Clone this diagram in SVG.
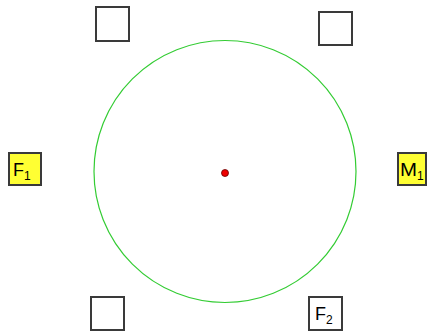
<svg xmlns="http://www.w3.org/2000/svg" width="429" height="335" viewBox="0 0 429 335">
<style>
.box{stroke:#3a3a3a;stroke-width:2;fill:#fff}
.hl{fill:#ffff33}
.t{font-family:"Liberation Sans",Arial,sans-serif;font-size:18px;fill:#000}
.s{font-size:12px}
</style>
<rect width="429" height="335" fill="#fff"/>
<g id="connectors"></g>
<g id="circle"><circle cx="225" cy="171.5" r="131" fill="none" stroke="#33cc33" stroke-width="1.2"/></g>
<g id="center"><circle cx="225" cy="173" r="3.5" fill="#e00" stroke="#600" stroke-width="0.8"/></g>
<g id="F1"><rect class="box hl" x="9" y="153" width="32" height="32"/><text class="t" x="13" y="176">F<tspan class="s" dy="4">1</tspan></text></g>
<g id="M1"><rect class="box hl" x="398" y="153" width="28" height="32"/><text class="t" x="400" y="176" textLength="17" lengthAdjust="spacingAndGlyphs">M</text><text class="t s" x="417" y="180">1</text></g>
<g id="F2"><rect class="box" x="309" y="297" width="33" height="33"/><text class="t" x="315" y="320">F<tspan class="s" dy="4">2</tspan></text></g>
<g id="topLeft"><rect class="box" x="96" y="7" width="33" height="34"/></g>
<g id="topRight"><rect class="box" x="319" y="12" width="33" height="33"/></g>
<g id="bottomLeft"><rect class="box" x="91" y="297" width="33" height="33"/></g>
</svg>
